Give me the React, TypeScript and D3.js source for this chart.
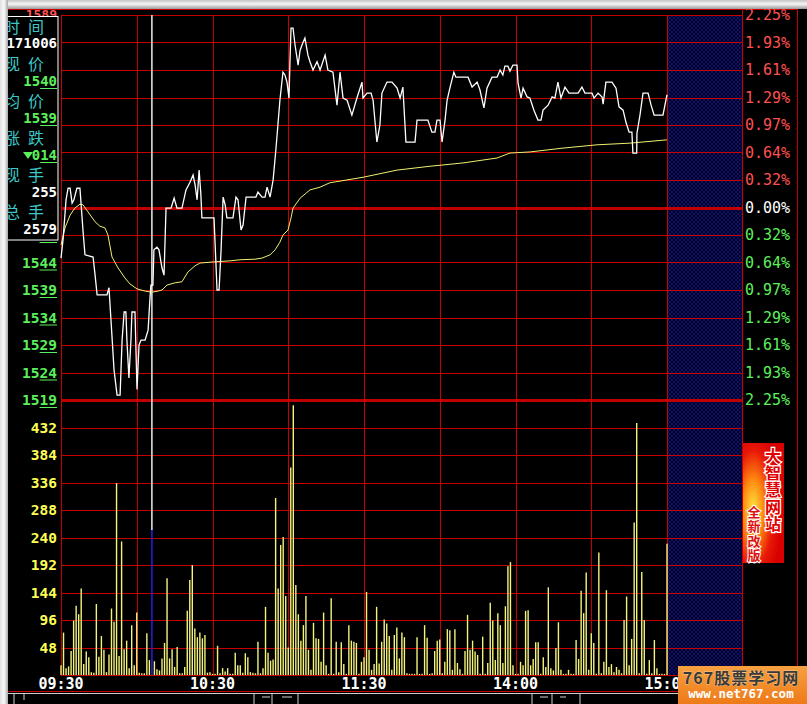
import React from 'react';
import * as d3 from 'd3';

const W = 807;
const H = 704;
const PREV_CLOSE = 1554;

// price axis ticks (price in 0.01 units)
const priceTicks = [1519, 1524, 1529, 1534, 1539, 1544, 1549, 1554, 1559, 1564, 1569, 1574, 1579, 1584, 1589];
// left labels that are not hidden behind the info panel
const visiblePriceLabels = [1519, 1524, 1529, 1534, 1539, 1544];
const pctLabels = ['2.25%', '1.93%', '1.61%', '1.29%', '0.97%', '0.64%', '0.32%', '0.00%', '0.32%', '0.64%', '0.97%', '1.29%', '1.61%', '1.93%', '2.25%'];
const volTicks = [48, 96, 144, 192, 240, 288, 336, 384, 432];
const timeLabels = ['09:30', '10:30', '11:30', '14:00', '15:00'];
const timeLabelMinutes = [0, 60, 120, 180, 240];
const gridMinutes = [0, 30, 60, 90, 120, 150, 180, 210, 240];

// price line (minute, price)
const priceT = [0, 0.8, 2.0, 2.8, 3.6, 4.4, 5.1, 6.3, 7.5, 8.7, 9.5, 12.7, 13.5, 14.3, 18.2, 19.0, 19.8, 21.0, 22.2, 23.4, 24.2, 25.0, 25.7, 26.1, 26.9, 27.7, 28.1, 29.3, 30.1, 30.9, 31.7, 33.3, 34.5, 35.2, 35.6, 36.4, 36.8, 38.0, 38.8, 40.0, 40.8, 41.6, 43.6, 44.8, 45.9, 47.9, 49.5, 51.1, 52.3, 53.1, 53.9, 54.7, 55.4, 55.8, 60.6, 61.8, 62.6, 63.4, 64.2, 65.0, 65.7, 68.1, 69.3, 70.1, 71.3, 72.1, 73.3, 77.2, 78.0, 79.6, 80.8, 81.6, 82.8, 84.0, 85.1, 86.7, 87.9, 88.7, 89.5, 90.3, 90.7, 91.1, 91.9, 92.7, 93.9, 94.7, 95.4, 96.6, 97.8, 98.6, 99.8, 101.4, 102.6, 104.6, 105.7, 107.7, 109.3, 110.5, 111.7, 113.3, 115.2, 117.2, 119.2, 119.6, 121.2, 122.8, 123.6, 125.1, 126.3, 127.1, 129.1, 131.1, 133.1, 134.3, 135.4, 136.6, 140.2, 141.0, 145.3, 146.9, 148.1, 148.9, 150.1, 150.9, 152.1, 152.9, 154.1, 155.6, 156.4, 161.2, 162.8, 164.8, 165.9, 167.5, 168.7, 170.7, 172.7, 173.9, 175.0, 175.8, 177.0, 177.8, 179.0, 180.6, 181.0, 182.2, 183.0, 184.6, 185.7, 187.3, 188.9, 190.1, 190.9, 192.9, 194.5, 195.6, 196.8, 198.0, 199.6, 201.2, 204.8, 206.3, 207.5, 210.3, 211.1, 212.7, 214.3, 214.7, 215.8, 218.2, 219.8, 221.0, 222.6, 223.8, 225.0, 226.1, 226.5, 228.0, 228.1, 229.3, 230.5, 232.5, 233.7, 234.9, 238.4, 240];
const priceP = [1544.8, 1548.1, 1555.4, 1557.5, 1557.5, 1554.8, 1555.4, 1557.5, 1557.5, 1549.9, 1545.4, 1545.0, 1541.7, 1538.1, 1538.1, 1539.4, 1533.5, 1524.5, 1519.9, 1519.9, 1529.9, 1535.0, 1535.0, 1529.9, 1523.0, 1529.9, 1535.0, 1535.0, 1520.9, 1529.0, 1529.9, 1529.9, 1531.7, 1537.2, 1539.9, 1539.9, 1546.3, 1546.8, 1546.3, 1543.0, 1541.7, 1553.9, 1553.9, 1555.7, 1553.9, 1553.9, 1557.2, 1558.6, 1559.9, 1558.1, 1555.4, 1560.8, 1556.3, 1552.1, 1552.1, 1539.0, 1539.0, 1546.3, 1555.9, 1554.5, 1552.1, 1552.1, 1555.9, 1555.4, 1549.9, 1550.8, 1555.9, 1555.9, 1556.8, 1555.9, 1555.9, 1557.7, 1555.9, 1559.0, 1564.5, 1573.5, 1578.6, 1578.1, 1576.8, 1573.9, 1580.8, 1586.6, 1586.6, 1583.5, 1579.9, 1582.6, 1583.5, 1584.8, 1581.7, 1580.5, 1579.0, 1580.5, 1579.0, 1581.7, 1579.0, 1578.6, 1572.6, 1578.6, 1573.9, 1573.5, 1570.8, 1573.9, 1576.8, 1573.9, 1574.8, 1574.8, 1573.5, 1565.9, 1569.0, 1574.8, 1576.8, 1576.8, 1575.7, 1573.9, 1575.9, 1565.9, 1565.9, 1569.9, 1569.9, 1567.7, 1567.7, 1569.9, 1569.9, 1565.9, 1569.9, 1573.5, 1575.9, 1578.6, 1577.7, 1577.7, 1575.9, 1576.8, 1575.4, 1572.1, 1575.7, 1577.7, 1577.7, 1579.0, 1578.1, 1579.7, 1579.7, 1578.8, 1579.9, 1579.9, 1576.6, 1573.9, 1575.7, 1574.1, 1573.9, 1571.7, 1569.9, 1569.9, 1571.7, 1572.6, 1574.1, 1573.9, 1576.8, 1573.9, 1575.9, 1574.8, 1574.8, 1575.9, 1574.8, 1574.8, 1573.9, 1574.8, 1574.1, 1572.8, 1576.8, 1576.8, 1575.7, 1572.3, 1571.7, 1569.4, 1567.7, 1567.7, 1563.9, 1563.9, 1567.5, 1570.8, 1574.8, 1574.8, 1572.6, 1570.8, 1570.8, 1574.5];

// average price line (minute, price)
const avgT = [0, 1.6, 3.6, 5.5, 7.5, 8.7, 10.7, 13.5, 15.4, 17.4, 18.6, 20.2, 22.6, 25.3, 27.3, 30.1, 33.3, 36.0, 38.4, 40.0, 42.0, 45.1, 47.9, 50.3, 53.1, 55.0, 60.2, 66.9, 70.9, 76.8, 79.6, 82.8, 84.8, 86.7, 87.9, 89.9, 91.1, 91.9, 94.7, 98.6, 102.6, 106.5, 110.5, 119.6, 133.1, 146.1, 159.2, 172.7, 177.8, 185.7, 198.8, 212.3, 225.3, 240];
const avgP = [1547.2, 1550.3, 1552.6, 1553.9, 1554.6, 1554.5, 1553.2, 1551.4, 1550.6, 1550.3, 1549.0, 1545.0, 1543.0, 1541.2, 1540.1, 1539.2, 1538.8, 1538.6, 1538.8, 1539.0, 1539.9, 1540.3, 1540.5, 1542.3, 1543.4, 1543.9, 1544.1, 1544.3, 1544.5, 1544.6, 1544.8, 1545.4, 1546.3, 1547.7, 1549.0, 1549.9, 1552.1, 1553.9, 1555.7, 1557.2, 1557.7, 1558.5, 1558.8, 1559.5, 1560.8, 1561.5, 1562.1, 1563.0, 1563.9, 1564.1, 1564.8, 1565.4, 1565.7, 1566.3];

// per-minute volume (hands), minutes 0..240
const volumes = [17, 74, 12, 15, 42, 95, 121, 106, 151, 19, 41, 31, 5, 4, 124, 32, 68, 44, 5, 36, 116, 93, 335, 33, 233, 45, 60, 12, 87, 17, 109, 4, 3, 3, 73, 26, 253, 24, 10, 8, 29, 56, 169, 29, 45, 14, 49, 3, 3, 14, 112, 166, 192, 81, 66, 74, 64, 70, 4, 5, 2, 2, 51, 3, 12, 6, 12, 2, 2, 39, 17, 17, 4, 38, 31, 5, 4, 3, 58, 3, 12, 119, 39, 25, 27, 309, 151, 227, 241, 138, 48, 362, 471, 157, 106, 60, 87, 138, 44, 9, 91, 64, 63, 23, 109, 17, 2, 134, 2, 58, 5, 57, 19, 2, 87, 60, 58, 56, 2, 23, 31, 145, 44, 9, 19, 119, 20, 58, 97, 90, 68, 9, 70, 83, 29, 74, 66, 3, 2, 2, 2, 66, 2, 2, 87, 65, 2, 3, 42, 60, 62, 3, 23, 80, 78, 9, 80, 21, 10, 2, 42, 105, 44, 60, 41, 35, 2, 67, 2, 21, 126, 95, 26, 108, 87, 21, 120, 190, 197, 17, 2, 2, 23, 17, 112, 113, 17, 28, 57, 57, 2, 31, 14, 153, 12, 8, 47, 92, 9, 2, 2, 9, 2, 2, 61, 28, 147, 108, 179, 9, 73, 56, 2, 214, 3, 23, 148, 14, 19, 5, 14, 9, 3, 96, 137, 17, 63, 266, 440, 3, 180, 96, 2, 26, 3, 61, 12, 2, 2, 2, 229];

const cursorMinute = 36;

// info panel
const infoLabels = [['时', '间'], ['现', '价'], ['均', '价'], ['涨', '跌'], ['现', '手'], ['总', '手']];
const infoValues = ['171006', '1540', '1539', '014', '255', '2579'];
const adTitle = ['大', '智', '慧', '网', '站'];
const adSub = ['全', '新', '改', '版'];

const MONO = '"DejaVu Sans Mono", "Liberation Mono", monospace';
const CJK = '"Noto Sans CJK SC", sans-serif';
const RED = '#c80000';
const GREEN = '#5cf05c';
const UP = '#ff5050';
const YEL = '#ffff54';
const CYAN = '#3cc8c8';

function Digits({ x, y, text, color, size, underline }: any) {
  const cw = size * 0.602;
  return (
    <g>
      <text x={x} y={y} fill={color} fontFamily={MONO} fontWeight="bold" fontSize={size} textAnchor="end" dominantBaseline="central">{text}</text>
      {underline ? <line x1={x - 2 * cw} x2={x} y1={y + 7.5} y2={y + 7.5} stroke={color} strokeWidth={1} /> : null}
    </g>
  );
}

export default function App() {
  const x = d3.scaleLinear().domain([0, 240]).range([61, 667]);
  const py = d3.scaleLinear().domain([1519, 1589]).range([400, 15]);
  const vy = d3.scaleLinear().domain([0, 480]).range([675, 400]);

  const priceLine = d3.line<number>().x((_, i) => x(priceT[i])).y((d) => py(d));
  const avgLine = d3.line<number>().x((_, i) => x(avgT[i])).y((d) => py(d));

  const left = 61, right = 742, top = 15, bottom = 675;
  const rowY = [25, 62, 99, 136, 173, 210];
  const valY = [43, 81, 118, 155, 192, 229];
  const cw = 14.5 * 0.602;

  return (
    <svg width={W} height={H} style={{ position: 'absolute', left: 0, top: 0, display: 'block' }}>
      <defs>
        <pattern id="hatch" width="4" height="4" patternUnits="userSpaceOnUse">
          <rect width="4" height="4" fill="#000008" />
          <path d="M0,0 L4,4 M4,0 L0,4" stroke="#1010a0" strokeWidth="0.8" />
        </pattern>
        <linearGradient id="topg" x1="0" y1="0" x2="0" y2="1">
          <stop offset="0" stopColor="#c4c4c4" />
          <stop offset="0.45" stopColor="#f6f6f6" />
          <stop offset="1" stopColor="#9a9a9a" />
        </linearGradient>
        <linearGradient id="leftg" x1="0" y1="0" x2="1" y2="0">
          <stop offset="0" stopColor="#e0e0e0" />
          <stop offset="0.5" stopColor="#fafafa" />
          <stop offset="1" stopColor="#a8a8a8" />
        </linearGradient>
        <radialGradient id="adg" cx="0.25" cy="0.55" r="0.7">
          <stop offset="0" stopColor="#ffe640" />
          <stop offset="0.35" stopColor="#ff8a10" />
          <stop offset="0.7" stopColor="#e81808" />
          <stop offset="1" stopColor="#d80000" />
        </radialGradient>
        <linearGradient id="wmg" x1="0" y1="0" x2="0" y2="1">
          <stop offset="0" stopColor="#f7a040" />
          <stop offset="1" stopColor="#ee7a18" />
        </linearGradient>
        <clipPath id="boxclip"><rect x={8} y={16} width={50} height={224} /></clipPath>
        <clipPath id="topclip"><rect x={8} y={9} width={52} height={7} /></clipPath>
      </defs>

      <rect width={W} height={H} fill="#000" />

      {/* future (hatched) area */}
      <rect x={x(240)} y={top} width={right - x(240)} height={bottom - top} fill="url(#hatch)" />

      {/* frame */}
      <line x1={8} x2={797} y1={9.5} y2={9.5} stroke={RED} />
      <line x1={797.5} x2={797.5} y1={9} y2={691} stroke={RED} />
      <line x1={right + 0.5} x2={right + 0.5} y1={9} y2={691} stroke={RED} />
      <line x1={8} x2={797} y1={691.5} y2={691.5} stroke={RED} />

      {/* price grid */}
      {priceTicks.map((p) => {
        const thick = p === PREV_CLOSE || p === 1519;
        return (
          <line key={'pg' + p} x1={left} x2={right} y1={Math.round(py(p)) + 0.5} y2={Math.round(py(p)) + 0.5}
            stroke={thick ? '#c00000' : RED} strokeWidth={thick ? 3 : 1} />
        );
      })}
      {/* volume grid */}
      {volTicks.map((v) => (
        <line key={'vg' + v} x1={left} x2={right} y1={Math.round(vy(v)) + 0.5} y2={Math.round(vy(v)) + 0.5} stroke={RED} />
      ))}
      <line x1={left} x2={right} y1={bottom + 0.5} y2={bottom + 0.5} stroke={RED} />
      {gridMinutes.map((m) => (
        <line key={'tg' + m} x1={Math.round(x(m)) + 0.5} x2={Math.round(x(m)) + 0.5} y1={top} y2={bottom} stroke={RED} />
      ))}

      {/* left price labels */}
      {visiblePriceLabels.map((p) => (
        <Digits key={'pl' + p} x={57} y={py(p)} text={String(p)} color={GREEN} size={14.5} underline />
      ))}
      {/* underline of the 1549 label peeking below the info panel */}
      <line x1={57 - 2 * cw} x2={57} y1={py(1549) + 7.5} y2={py(1549) + 7.5} stroke={GREEN} />
      {/* top label, mostly hidden by the info panel */}
      <g clipPath="url(#topclip)">
        <text x={57} y={py(1589) - 1} fill={UP} fontFamily={MONO} fontWeight="bold" fontSize={13} textAnchor="end" dominantBaseline="central">{String(priceTicks[14])}</text>
      </g>
      {/* volume labels */}
      {volTicks.map((v) => (
        <text key={'vl' + v} x={57} y={vy(v)} fill={YEL} fontFamily={MONO} fontWeight="bold" fontSize={14.5} textAnchor="end" dominantBaseline="central">{v}</text>
      ))}
      {/* right percent labels */}
      {priceTicks.slice().reverse().map((p, i) => {
        const col = p > PREV_CLOSE ? UP : p < PREV_CLOSE ? GREEN : '#fff';
        return (
          <text key={'rl' + p} x={745} y={py(p)} fill={col} fontFamily={MONO} fontSize={15} dominantBaseline="central">{pctLabels[i]}</text>
        );
      })}
      {/* time labels */}
      {timeLabels.map((t, i) => (
        <text key={'tl' + t} x={x(timeLabelMinutes[i])} y={684} fill="#fff" fontFamily={MONO} fontWeight="bold" fontSize={15} textAnchor="middle" dominantBaseline="central">{t}</text>
      ))}

      {/* volume bars */}
      {volumes.map((v, i) => (
        i === cursorMinute ? null :
        <line key={'vb' + i} x1={x(i)} x2={x(i)} y1={vy(0)} y2={vy(v)} stroke="#f4f47c" strokeWidth={1.4} />
      ))}
      {/* cursor line and highlighted bar */}
      <line x1={x(cursorMinute)} x2={x(cursorMinute)} y1={top} y2={vy(volumes[cursorMinute])} stroke="#fff" strokeWidth={1.4} />
      <line x1={x(cursorMinute)} x2={x(cursorMinute)} y1={vy(0)} y2={vy(volumes[cursorMinute])} stroke="#2020d0" strokeWidth={1.6} />

      {/* average & price lines */}
      <path d={avgLine(avgP) || ''} fill="none" stroke="#f0f070" strokeWidth={1} />
      <path d={priceLine(priceP) || ''} fill="none" stroke="#fff" strokeWidth={1.3} strokeLinejoin="miter" />

      {/* info panel */}
      <rect x={4} y={16.5} width={54} height={223.5} fill="#000" stroke="#fff" strokeWidth={1} />
      <g clipPath="url(#boxclip)">
        {infoLabels.map((l, i) => (
          <g key={'il' + i}>
            <text x={12} y={rowY[i] + 1} fill={CYAN} fontFamily={CJK} fontSize={16} textAnchor="middle" dominantBaseline="central">{l[0]}</text>
            <text x={36} y={rowY[i] + 1} fill={CYAN} fontFamily={CJK} fontSize={16} textAnchor="middle" dominantBaseline="central">{l[1]}</text>
          </g>
        ))}
      </g>
      <Digits x={57} y={valY[0]} text={infoValues[0]} color="#fff" size={14} />
      <Digits x={57} y={valY[1]} text={infoValues[1]} color={GREEN} size={14} underline />
      <Digits x={57} y={valY[2]} text={infoValues[2]} color={GREEN} size={14} underline />
      <polygon points="23,152 33,152 28,159" fill={GREEN} />
      <Digits x={57} y={valY[3]} text={infoValues[3]} color={GREEN} size={14} underline />
      <Digits x={57} y={valY[4]} text={infoValues[4]} color="#fff" size={14} />
      <Digits x={57} y={valY[5]} text={infoValues[5]} color="#fff" size={14} />

      {/* ad block */}
      <rect x={743} y={443} width={41} height={120} fill="url(#adg)" />
      {adTitle.map((c, i) => (
        <text key={'ad' + i} x={773} y={455 + i * 17} fill="#e00000" stroke="#fff" strokeWidth={2.5} style={{ paintOrder: 'stroke' }}
          fontFamily={CJK} fontWeight="bold" fontSize={16} textAnchor="middle" dominantBaseline="central">{c}</text>
      ))}
      {adSub.map((c, i) => (
        <text key={'ad2' + i} x={754} y={511 + i * 14.5} fill="#e01010" stroke="#fff" strokeWidth={2} style={{ paintOrder: 'stroke' }}
          fontFamily={CJK} fontWeight="bold" fontSize={13} textAnchor="middle" dominantBaseline="central">{c}</text>
      ))}

      {/* bottom toolbar remnants */}
      <line x1={8} x2={680} y1={693.5} y2={693.5} stroke="#d0d0d0" />
      <path d="M14,694 V704 M24,694 V700 M254,694 V704 M262,697 H270 M272,694 V704 M282,697 H292 M298,694 V704 M532,694 V704 M540,697 H548 M552,694 V704 M560,697 H566 M580,694 V704"
        stroke="#d0d0d0" fill="none" />

      {/* watermark */}
      <rect x={678} y={666} width={129} height={38} fill="url(#wmg)" />
      <text x={741} y={676.5} fill="#3a3a3a" stroke="#f6c890" strokeWidth={0.8} style={{ paintOrder: 'stroke' }} fontFamily={CJK} fontWeight="bold" fontSize={16} textAnchor="middle" dominantBaseline="central" letterSpacing={1}>767股票学习网</text>
      <text x={741} y={693.5} fill="#fff" fontFamily={MONO} fontWeight="bold" fontSize={12.5} textAnchor="middle" dominantBaseline="central">www.net767.com</text>

      {/* window borders */}
      <rect x={0} y={0} width={W} height={9} fill="url(#topg)" />
      <rect x={0} y={0} width={8} height={H} fill="url(#leftg)" />
    </svg>
  );
}
